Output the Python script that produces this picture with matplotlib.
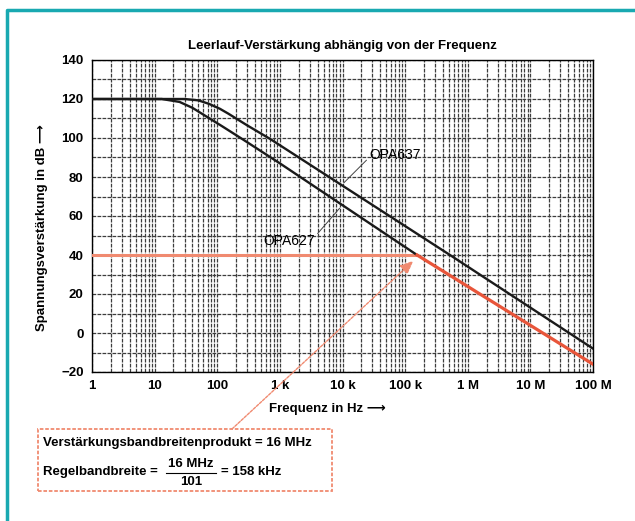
import matplotlib
matplotlib.use("Agg")
import matplotlib.pyplot as plt
from matplotlib.patches import Rectangle
from matplotlib.lines import Line2D

# values
freq_627 = [1, 13, 25, 40, 60, 120, 250, 1000, 1.55e5]
gain_627 = [120, 120, 118.5, 115.5, 112, 106, 99.5, 87, 40]
freq_627_closed = [1.55e5, 1e8]
gain_627_closed = [40, -16]
freq_637 = [1, 30, 50, 74, 110, 150, 300, 700, 5.2e5, 1e8]
gain_637 = [120, 120, 119.3, 117.5, 115, 112.5, 106.5, 99.5, 40, -8]
freq_cl = [1, 1.55e5]
gain_cl = [40, 40]

x_ticks = [1, 10, 100, 1e3, 1e4, 1e5, 1e6, 1e7, 1e8]
x_labels = ["1", "10", "100", "1 k", "10 k", "100 k", "1 M", "10 M", "100 M"]
y_ticks = list(range(-20, 141, 20))

W, H = 635, 521
FONT = ["Liberation Sans Narrow", "Liberation Sans", "DejaVu Sans"]
RED = "#e8553a"
SALMON = "#f08a70"
TEAL = "#19a9b1"
FS = 9.5
plt.rcParams["font.family"] = FONT


def fx(px):
    return px / W


def fy(py):
    return 1 - py / H


fig = plt.figure(figsize=(W / 100, H / 100), dpi=100)
ax = fig.add_axes([fx(92), fy(372), fx(593) - fx(92), fy(60) - fy(372)])

ax.set_xscale("log")
ax.set_xlim(1, 1e8)
ax.set_ylim(-20, 140)

# grid: every 10 dB, log minor lines
ax.set_yticks(y_ticks)
ax.set_yticks(range(-10, 140, 20), minor=True)
ax.set_xticks(x_ticks)
ax.set_xticklabels(x_labels)
ax.xaxis.set_minor_locator(matplotlib.ticker.LogLocator(base=10, subs=range(2, 10), numticks=20))
ax.xaxis.set_minor_formatter(matplotlib.ticker.NullFormatter())
ax.grid(True, which="both", color="#3c3c3c", lw=0.9, ls=(0, (3, 1)))
ax.tick_params(which="both", length=0, pad=6)
for lab in ax.get_xticklabels() + ax.get_yticklabels():
    lab.set_fontsize(FS)
    lab.set_fontweight("bold")
for s in ax.spines.values():
    s.set_linewidth(1)

ax.plot(freq_cl, gain_cl, color=SALMON, lw=2.2, zorder=3)
ax.plot(freq_637, gain_637, color="#1a1a1a", lw=1.7, zorder=4)
ax.plot(freq_627, gain_627, color="#1a1a1a", lw=1.7, zorder=4)
ax.plot(freq_627_closed, gain_627_closed, color=RED, lw=2.3, zorder=5)

# curve labels
ax.annotate("OPA637", xy=(1.05e4, 77), xytext=(6.9e4, 91.5),
            fontsize=FS + 0.5, ha="center", va="center",
            arrowprops=dict(arrowstyle="-", color="#444444", lw=0.7,
                            shrinkA=0, shrinkB=0, relpos=(0, 0.3)))
ax.annotate("OPA627", xy=(9e3, 64), xytext=(1.4e3, 47.2),
            fontsize=FS + 0.5, ha="center", va="center",
            arrowprops=dict(arrowstyle="-", color="#444444", lw=0.7,
                            shrinkA=0, shrinkB=0, relpos=(1, 0.8)))

ax.set_title("Leerlauf-Verstärkung abhängig von der Frequenz", fontsize=FS,
             fontweight="bold", pad=8)
fig.text(fx(42), fy(228), "Spannungsverstärkung in dB \u27f6", rotation=90,
         ha="center", va="center", fontsize=FS, fontweight="bold")
fig.text(fx(327), fy(409), "Frequenz in Hz \u27f6", ha="center", va="center",
         fontsize=FS, fontweight="bold")

# arrow from the box to the 40 dB crossing
ax.annotate("", xy=(1.35e5, 37), xycoords="data",
            xytext=(fx(232), fy(429)), textcoords="figure fraction",
            annotation_clip=False,
            arrowprops=dict(arrowstyle="-|>,head_length=0.8,head_width=0.35",
                            color=SALMON, lw=1, ls=(0, (2, 1)),
                            shrinkA=0, shrinkB=0))

# formula box
fig.patches.append(Rectangle((fx(38), fy(491)), fx(332) - fx(38), fy(429) - fy(491),
                             transform=fig.transFigure, fill=False,
                             edgecolor=SALMON, lw=1.3, ls=(0, (2, 1))))
fig.text(fx(43), fy(443), "Verstärkungsbandbreitenprodukt = 16 MHz",
         ha="left", va="center", fontsize=FS, fontweight="bold")
fig.text(fx(43), fy(472), "Regelbandbreite =", ha="left", va="center",
         fontsize=FS, fontweight="bold")
fig.text(fx(191), fy(464), "16 MHz", ha="center", va="center",
         fontsize=FS, fontweight="bold")
fig.lines.append(Line2D([fx(166), fx(216)], [fy(473), fy(473)],
                        transform=fig.transFigure, color="black", lw=0.8))
fig.text(fx(191), fy(482), "101", ha="center", va="center",
         fontsize=FS, fontweight="bold")
fig.text(fx(221), fy(472), "= 158 kHz", ha="left", va="center",
         fontsize=FS, fontweight="bold")

# teal frame, top and left edge
fig.lines.append(Line2D([fx(7), fx(7), 1], [0, fy(10), fy(10)],
                        transform=fig.transFigure, color=TEAL, lw=2.5))

fig.savefig("out.png", dpi=100)
